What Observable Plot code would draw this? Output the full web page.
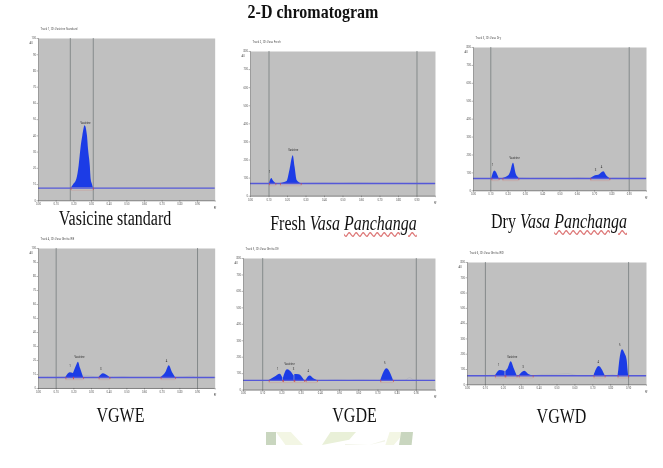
<!DOCTYPE html>
<html><head><meta charset="utf-8">
<script src="https://cdn.jsdelivr.net/npm/d3@7"></script>
<script src="https://cdn.jsdelivr.net/npm/@observablehq/plot@0.6"></script>
<style>
html,body{margin:0;padding:0;background:#fff;width:663px;height:468px;overflow:hidden}
#page{position:relative;width:663px;height:468px;filter:blur(.35px)}
#page svg{position:absolute;overflow:visible;background:transparent}
.t{position:absolute;white-space:nowrap;font-family:"Liberation Serif",serif;color:#111;transform-origin:50% 50%}
.wm{position:absolute}
</style></head><body><div id="page"></div>
<script>
// Rf axis
const rfTicks = [0,.1,.2,.3,.4,.5,.6,.7,.8,.9,1];
const pct = [0,10,20,30,40,50,60,70,80,90,100];
const au800 = [0,100,200,300,400,500,600,700,800];

// Vasicine standard
const stdPeaks = [[[.185,7.8],[.198,9.8],[.217,13.3],[.23,21.5],[.24,31.8],[.251,40],[.264,46.2],[.277,40],[.283,31.8],[.293,21.5],[.298,13.3],[.306,9.8],[.311,7.8]]];
const stdTrace = [];
const stdLabels = [[.266,47.5,"Vasicine"]];

// Fresh Vasa Panchanga
const freshPeaks = [
 [[.103,70],[.115,98],[.125,82],[.137,70]],
 [[.162,70],[.198,81],[.213,142],[.231,223],[.241,160],[.252,87],[.274,70]]];
const freshTrace = [[.27,70],[.3,72],[.4,75],[.47,72],[.5,73],[.57,76],[.62,74],[.7,71],[.8,71],[.9,68],[1,70]];
const freshLabels = [[.103,128,"1"],[.231,248,"Vasicine"]];

// Dry Vasa Panchanga
const dryPeaks = [
 [[.106,69],[.123,110],[.148,69]],
 [[.17,69],[.204,84],[.214,102],[.231,154],[.247,93],[.262,73]],
 [[.678,69],[.705,84],[.724,87],[.753,106],[.773,80],[.788,69]]];
const dryTrace = [[.262,73],[.3,71],[.33,69],[.45,71],[.54,69],[.6,74],[.66,70],[.678,69],[.788,69],[.81,72],[.9,70],[1,70]];
const dryLabels = [[.11,136,"1"],[.238,178,"Vasicine"],[.705,112,"3"],[.74,126,"4"]];

// VGWE
const vgwePeaks = [
 [[.155,7.9],[.179,11.2],[.198,10.7]],
 [[.198,10.7],[.213,15.5],[.226,18.8],[.238,14.3],[.255,7.9]],
 [[.343,7.9],[.368,10.5],[.387,9.5],[.404,7.9]],
 [[.694,7.9],[.721,11.4],[.74,16.2],[.758,11.4],[.775,7.9]]];
const vgweTrace = [[0,7.9],[.1,7.9],[.155,8.5],[.255,9.5],[.29,9],[.343,7.9],[.42,7.9],[.48,8.5],[.52,7.9],[.694,7.9],[.775,7.9],[.83,8.3],[.865,9],[.89,7.9],[1,7.9]];
const vgweLabels = [[.179,15,"1"],[.232,22,"Vasicine"],[.353,13.5,"3"],[.725,19,"4"]];

// VGDE
const vgdePeaks = [
 [[.134,59],[.165,79],[.191,97],[.205,73]],
 [[.208,70],[.229,123],[.257,97],[.264,85]],
 [[.267,95],[.29,93],[.318,59]],
 [[.326,59],[.347,85],[.368,67],[.385,59]],
 [[.715,59],[.747,130],[.781,59]]];
const vgdeTrace = [[0,59],[.134,59],[.385,59],[.43,60],[.48,64],[.55,60],[.6,63],[.7,59],[.8,59],[.84,60],[.865,76],[.89,60],[1,59]];
const vgdeLabels = [[.177,122,"1"],[.24,152,"Vasicine"],[.26,124,"3"],[.337,107,"4"],[.736,156,"5"]];

// VGWD
const vgwdPeaks = [
 [[.156,59],[.182,94],[.21,87]],
 [[.214,87],[.227,105],[.244,150],[.261,105],[.277,59]],
 [[.289,59],[.32,89],[.345,65],[.367,59]],
 [[.707,59],[.735,120],[.769,59]],
 [[.841,59],[.845,94],[.851,159],[.857,203],[.866,229],[.88,203],[.892,159],[.897,94],[.9,59]]];
const vgwdTrace = [[0,59],[.1,59],[.15,65],[.367,59],[.42,68],[.5,69],[.56,73],[.6,63],[.65,58],[.707,59],[.769,59],[.81,67],[.841,59],[1,59]];
const vgwdLabels = [[.175,120,"1"],[.25,177,"Vasicine"],[.31,111,"3"],[.73,142,"4"],[.85,256,"5"]];

const panels = [
 {box:[38.3,37.7,215,200],yt:pct,base:7.8,peaks:stdPeaks,trace:stdTrace,labels:stdLabels,lines:[.18,.31],name:"Track 1, ID: Vasicine Standard"},
 {box:[250,51,435,195.7],yt:au800,base:70,peaks:freshPeaks,trace:freshTrace,labels:freshLabels,lines:[.1,.9],name:"Track 2, ID: Vasa Fresh"},
 {box:[473,46.7,646,190],yt:au800,base:69,peaks:dryPeaks,trace:dryTrace,labels:dryLabels,lines:[.1,.9],name:"Track 3, ID: Vasa Dry"},
 {box:[38.3,248.3,215,388.3],yt:pct,base:7.9,peaks:vgwePeaks,trace:vgweTrace,labels:vgweLabels,lines:[.1,.9],name:"Track 4, ID: Vasa Ghrita WE"},
 {box:[242.7,257.7,434.7,389.3],yt:au800,base:59,peaks:vgdePeaks,trace:vgdeTrace,labels:vgdeLabels,lines:[.1,.9],name:"Track 5, ID: Vasa Ghrita DE"},
 {box:[466.7,262,645.7,384.3],yt:au800,base:59,peaks:vgwdPeaks,trace:vgwdTrace,labels:vgwdLabels,lines:[.1,.9],name:"Track 6, ID: Vasa Ghrita WD"}
];

const page = document.getElementById("page");
const blue = "#1c3ce6";
const ink = "#4a4a4a";
const M = {l:16,r:8,t:14,b:12};

panels.forEach(p => {
  const [x0,y0,x1,y1] = p.box, ymax = p.yt[p.yt.length-1], k = ymax/(y1-y0);
  const marks = [
    Plot.frame({fill:"#c0c0c0",stroke:"none"}),
    Plot.ruleX(p.lines,{stroke:"#6c7274",strokeWidth:.7}),
    Plot.lineY(p.trace,{x:d=>d[0],y:d=>d[1],stroke:"#8a8fb0",strokeWidth:.4,strokeOpacity:.55,curve:"monotone-x"}),
    ...p.peaks.map(q => Plot.areaY(q,{x:d=>d[0],y1:p.base,y2:d=>d[1],fill:blue,curve:"monotone-x"})),
    Plot.ruleY([p.base],{stroke:"#5558d8",strokeWidth:1.4}),
    Plot.ruleX(p.peaks.flatMap(q=>[q[0][0],q[q.length-1][0]]),{y1:p.base,y2:p.base-2.2*k,stroke:"#d8453a",strokeWidth:.6}),
    Plot.ruleY(p.peaks,{x1:q=>q[0][0],x2:q=>q[q.length-1][0],y:p.base-2.2*k,stroke:"#cf8f88",strokeWidth:.35}),
    Plot.text(p.labels,{x:d=>d[0],y:d=>d[1],text:d=>d[2],fontSize:2.7,fill:"#222",lineAnchor:"bottom"}),
    Plot.ruleY([0],{stroke:"#444",strokeWidth:.6}),
    Plot.ruleX([0],{stroke:"#555",strokeWidth:.5}),
    Plot.axisX({ticks:rfTicks,tickSize:1.5,tickPadding:1,fontSize:2.6,fill:ink,stroke:"#444",strokeWidth:.4,tickFormat:d=>d<1?d.toFixed(2):"",label:null}),
    Plot.axisY({ticks:p.yt,tickSize:1.5,tickPadding:1,fontSize:2.6,fill:ink,stroke:"#444",strokeWidth:.4,label:null}),
    Plot.text(["Rf"],{frameAnchor:"bottom-right",dy:8,dx:1,fontSize:2.6,fill:ink}),
    Plot.text(["AU"],{frameAnchor:"top-left",dx:-9,dy:4,fontSize:2.6,fill:ink}),
    Plot.text([p.name],{frameAnchor:"top-left",dy:-10,dx:2,fontSize:2.7,fill:ink,textAnchor:"start"})
  ];
  const svg = Plot.plot({
    width:x1-x0+M.l+M.r, height:y1-y0+M.t+M.b,
    marginLeft:M.l, marginRight:M.r, marginTop:M.t, marginBottom:M.b,
    x:{domain:[0,1]}, y:{domain:[0,ymax]}, marks
  });
  svg.style.left=(x0-M.l)+"px"; svg.style.top=(y0-M.t)+"px";
  page.appendChild(svg);
});

// Title and captions
function cap(html,cx,cy,fs,sy,sx,extra){
  const d=document.createElement("div"); d.className="t"; d.innerHTML=html;
  d.style.left=cx+"px"; d.style.top=cy+"px"; d.style.fontSize=fs+"px"; d.style.lineHeight="1";
  d.style.transform=`translate(-50%,-50%) scale(${sx},${sy})`;
  if(extra) d.style.fontWeight=extra;
  page.appendChild(d);
}
const sq='<span style="text-decoration:underline wavy #d77 .4px;text-underline-offset:1px">Panchanga</span>';
cap("2-D chromatogram",313,11.5,16,1.15,1,"bold");
cap("Vasicine standard",115,218,16,1.35,1);
cap(`Fresh <i>Vasa</i> <i>${sq}</i>`,343.5,222.5,16,1.35,1);
cap(`Dry <i>Vasa</i> <i>${sq}</i>`,559,221,16,1.35,1);
cap("VGWE",120.5,415,16,1.35,1);
cap("VGDE",354.5,415,16,1.35,1);
cap("VGWD",561.5,415.5,16,1.35,1);

// Faint watermark fragments at the foot of the page
[[266,432,10,13,"#c9d6bf","none"],
 [276,432,27,13,"#f3f6e4","polygon(0 0,55% 0,100% 100%,35% 100%)"],
 [322,432,34,13,"#e9f0d8","polygon(25% 0,100% 0,80% 60%,0 100%)"],
 [345,440,40,5,"#f2f4e8","polygon(0 80%,60% 100%,100% 0,100% 30%,60% 100%,0 100%)"],
 [377,432,28,13,"#f3f6e4","polygon(45% 0,100% 0,60% 100%,30% 100%)"],
 [399,432,14,13,"#c9d6bf","polygon(15% 0,100% 0,90% 100%,0 100%)"]
].forEach(w=>{
  const d=document.createElement("div"); d.className="wm";
  d.style.cssText=`left:${w[0]}px;top:${w[1]}px;width:${w[2]}px;height:${w[3]}px;background:${w[4]};clip-path:${w[5]}`;
  page.appendChild(d);
});
</script></body></html>
